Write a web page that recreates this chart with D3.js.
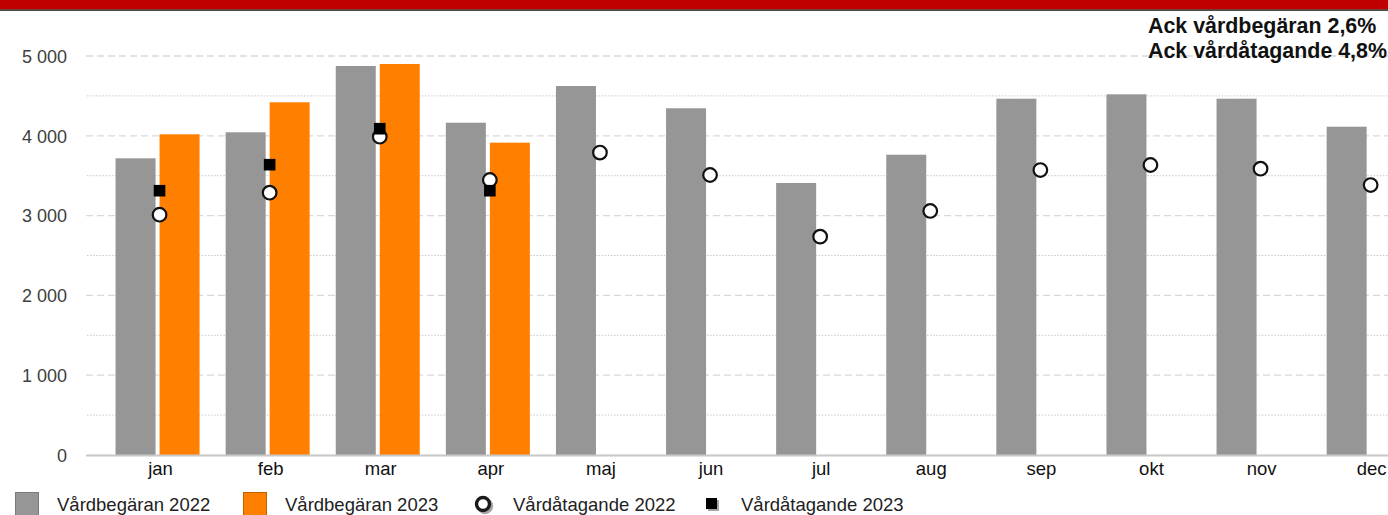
<!DOCTYPE html>
<html><head><meta charset="utf-8">
<script src="https://cdn.jsdelivr.net/npm/d3@7"></script>
<style>
html,body{margin:0;padding:0;background:#fff;}
svg{display:block;font-family:"Liberation Sans",Arial,sans-serif;}
</style></head>
<body>
<svg id="chart" width="1388" height="515"></svg>
<script>
const months = ["jan","feb","mar","apr","maj","jun","jul","aug","sep","okt","nov","dec"];
const vardbegaran2022 = [3718,4044,4875,4164,4624,4345,3409,3763,4465,4520,4465,4114];
const vardbegaran2023 = [4019,4420,4900,3914];
const vardatagande2022 = [3011,3287,3989,3446,3790,3509,2736,3058,3571,3634,3588,3383];
const vardatagande2023 = [3312,3638,4089,3312];
const yTicks = [0,1000,2000,3000,4000,5000];
const yMinorTicks = [500,1500,2500,3500,4500];
const seriesNames = ["Vårdbegäran 2022","Vårdbegäran 2023","Vårdåtagande 2022","Vårdåtagande 2023"];
const annotations = ["Ack vårdbegäran 2,6%","Ack vårdåtagande 4,8%"];

const W = 1388, H = 515;
const svg = d3.select("#chart");

// top band
svg.append("rect").attr("x",0).attr("y",0).attr("width",W).attr("height",9.5).attr("fill","#c00000");
svg.append("rect").attr("x",0).attr("y",9.5).attr("width",W).attr("height",1.2).attr("fill","#000");

const plotLeft = 86, plotRight = W;
const x = d3.scaleBand().domain(months).range([104.5, 1425.7]).padding(0);
const xc = m => x(m) + x.bandwidth()/2;
const x1 = d3.scaleBand().domain(["2022","2023"]).range([0,84]).paddingInner(4/44).paddingOuter(0);
const y = d3.scaleLinear().domain([0,5000]).range([455,56]);

// minor gridlines (dotted)
svg.append("g").selectAll("line").data(yMinorTicks).join("line")
  .attr("x1",plotLeft+1).attr("x2",plotRight)
  .attr("y1",d=>y(d)).attr("y2",d=>y(d))
  .attr("stroke","#c9c9c9").attr("stroke-width",1).attr("stroke-dasharray","1.5,1.6");
// major gridlines (dashed)
svg.append("g").selectAll("line").data(yTicks.filter(d=>d>0)).join("line")
  .attr("x1",plotLeft).attr("x2",plotRight)
  .attr("y1",d=>y(d)).attr("y2",d=>y(d))
  .attr("stroke","#d9d9d9").attr("stroke-width",1.3).attr("stroke-dasharray","7,4");

// y axis labels
const yAxis = d3.axisLeft(y).tickValues(yTicks).tickSize(0).tickPadding(0)
  .tickFormat(d => d3.format(",")(d).replace(/,/g," "));
const gy = svg.append("g").attr("transform","translate(67,0)").call(yAxis);
gy.select(".domain").remove();
gy.selectAll("text").attr("font-size",18).attr("fill","#404040")
  .attr("font-family","'Liberation Sans',Arial,sans-serif").attr("dy","0.35em");

// bars
const g22 = svg.append("g");
g22.selectAll("rect").data(months).join("rect")
  .attr("x",(m)=> xc(m) - 44 + x1("2022"))
  .attr("width",x1.bandwidth())
  .attr("y",(m,i)=>y(vardbegaran2022[i]))
  .attr("height",(m,i)=>y(0)-y(vardbegaran2022[i]))
  .attr("fill","#969696");
const g23 = svg.append("g");
g23.selectAll("rect").data(months.slice(0,vardbegaran2023.length)).join("rect")
  .attr("x",(m)=> xc(m) - 44 + x1("2023"))
  .attr("width",x1.bandwidth())
  .attr("y",(m,i)=>y(vardbegaran2023[i]))
  .attr("height",(m,i)=>y(0)-y(vardbegaran2023[i]))
  .attr("fill","#ff8000");

// x axis
const xAxis = d3.axisBottom(x).tickSize(0).tickPadding(0);
const gx = svg.append("g").attr("transform",`translate(0,${y(0)})`).call(xAxis);
gx.select(".domain").remove();
gx.selectAll("text").attr("font-size",18.5).attr("fill","#111")
  .attr("font-family","'Liberation Sans',Arial,sans-serif").attr("y",20).attr("dy","0").attr("x",1);
svg.append("line").attr("x1",plotLeft).attr("x2",plotRight).attr("y1",y(0)+0.5).attr("y2",y(0)+0.5)
  .attr("stroke","#c8c8c8").attr("stroke-width",2);

// circles 2022
svg.append("g").selectAll("circle").data(months).join("circle")
  .attr("cx",m=>xc(m)).attr("cy",(m,i)=>y(vardatagande2022[i]))
  .attr("r",6.8).attr("fill","#fff").attr("stroke","#111").attr("stroke-width",2.2);
// squares 2023
svg.append("g").selectAll("rect").data(months.slice(0,vardatagande2023.length)).join("rect")
  .attr("x",m=>xc(m)-5.8).attr("y",(m,i)=>y(vardatagande2023[i])-5.8)
  .attr("width",11.6).attr("height",11.6).attr("fill","#000");

// annotation
svg.append("g").selectAll("text").data(annotations).join("text")
  .attr("x",1148).attr("y",(d,i)=>33+i*25)
  .attr("font-size",21.4).attr("font-weight","bold").attr("fill","#111")
  .text(d=>d);

// legend
const leg = svg.append("g");
const legY = 504;
seriesNames.forEach((name,i)=>{
  const x0 = 15 + i*228;
  const gi = leg.append("g");
  if (i<2){
    gi.append("rect").attr("x",x0+0.5).attr("y",legY-11.5).attr("width",23).attr("height",23)
      .attr("fill", i===0 ? "#969696" : "#ff8000")
      .attr("stroke", i===0 ? "#7a7a7a" : "#c06000").attr("stroke-width",1);
  } else if (i===2){
    gi.append("circle").attr("cx",x0+14).attr("cy",legY+2).attr("r",6.5).attr("fill","none")
      .attr("stroke","#a6a6a6").attr("stroke-width",3.4);
    gi.append("circle").attr("cx",x0+12).attr("cy",legY).attr("r",6.5).attr("fill","#fff")
      .attr("stroke","#1a1a1a").attr("stroke-width",3.4);
  } else {
    gi.append("rect").attr("x",x0+9).attr("y",legY-4).attr("width",11).attr("height",11).attr("fill","#a6a6a6");
    gi.append("rect").attr("x",x0+7).attr("y",legY-6).attr("width",11).attr("height",11).attr("fill","#000");
  }
  gi.append("text").attr("x",x0+42).attr("y",legY+6.5).attr("font-size",18.5).attr("fill","#222").text(name);
});
</script>
</body></html>
